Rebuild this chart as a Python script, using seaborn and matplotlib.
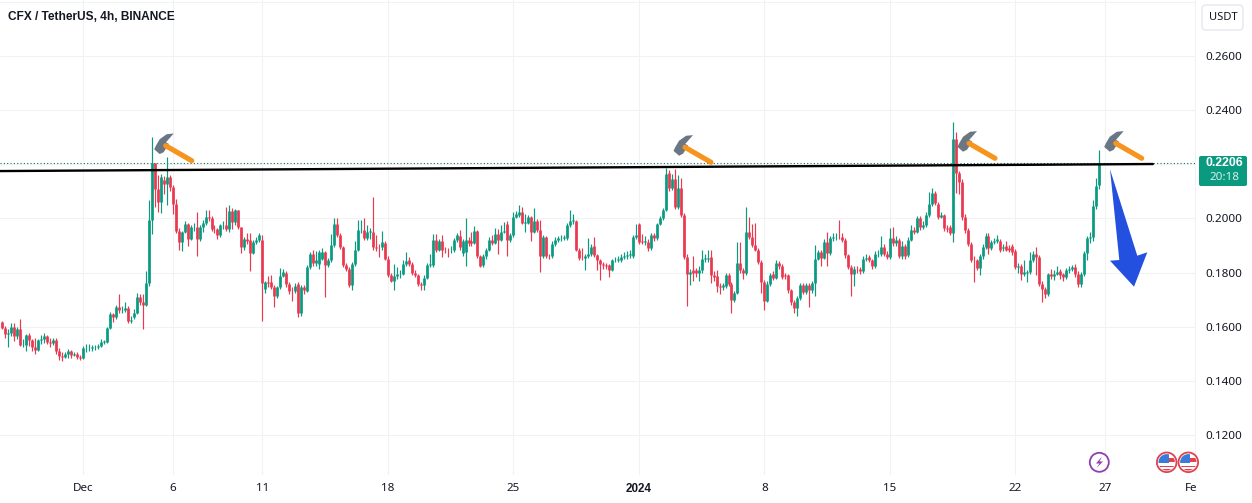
import pandas as pd
import numpy as np
import matplotlib.pyplot as plt
import matplotlib.dates as mdates
from matplotlib.patches import Polygon, Circle, Rectangle, FancyBboxPatch
from matplotlib.transforms import ScaledTranslation
import seaborn as sns

# candle values, in ten-thousandths of a USDT, 4h candles from 2023-11-26 12:00
opens = [
    1616, 1595, 1572, 1577, 1600, 1565, 1592, 1532, 1533, 1568,
    1552, 1525, 1515, 1550, 1553, 1565, 1545, 1540, 1552, 1510,
    1490, 1488, 1500, 1510, 1497, 1500, 1488, 1484, 1520, 1521,
    1522, 1524, 1526, 1528, 1544, 1545, 1597, 1647, 1635, 1672,
    1660, 1660, 1670, 1622, 1635, 1652, 1708, 1690, 1682, 1760,
    1995, 2203, 2110, 2060, 2143, 2128, 2153, 2116, 2054, 1955,
    1912, 1949, 1978, 1925, 1968, 1968, 1925, 1968, 1983, 2005,
    2000, 1962, 1960, 1937, 1974, 1974, 1962, 2027, 1986, 2030,
    1968, 1894, 1925, 1920, 1872, 1912, 1920, 1921, 1740, 1765,
    1767, 1746, 1715, 1746, 1789, 1797, 1758, 1733, 1732, 1758,
    1649, 1746, 1733, 1820, 1869, 1835, 1833, 1852, 1877, 1827,
    1846, 1901, 1979, 1938, 1895, 1827, 1815, 1753, 1833, 1885,
    1957, 1957, 1926, 1951, 1951, 1893, 1892, 1893, 1911, 1852,
    1790, 1769, 1786, 1794, 1796, 1833, 1846, 1833, 1799, 1790,
    1759, 1753, 1781, 1827, 1827, 1920, 1885, 1917, 1885, 1883,
    1882, 1883, 1920, 1935, 1873, 1875, 1920, 1915, 1910, 1953,
    1860, 1827, 1860, 1885, 1922, 1910, 1942, 1922, 1951, 1979,
    1920, 1938, 2006, 2012, 2025, 1985, 1985, 2004, 1951, 1991,
    1959, 1860, 1930, 1862, 1860, 1907, 1920, 1926, 1929, 1926,
    1975, 1991, 1991, 1883, 1855, 1853, 1862, 1870, 1898, 1864,
    1846, 1833, 1827, 1827, 1811, 1846, 1846, 1846, 1858, 1860,
    1864, 1860, 1930, 1979, 1917, 1914, 1914, 1889, 1938, 1928,
    1981, 2000, 2033, 2169, 2111, 2144, 2041, 2111, 2012, 1858,
    1794, 1808, 1808, 1800, 1808, 1852, 1852, 1858, 1790, 1786,
    1749, 1746, 1751, 1790, 1759, 1697, 1725, 1836, 1809, 1799,
    1951, 1932, 1901, 1885, 1839, 1765, 1695, 1759, 1794, 1781,
    1836, 1823, 1790, 1790, 1734, 1691, 1670, 1707, 1753, 1728,
    1753, 1734, 1762, 1852, 1876, 1855, 1914, 1873, 1926, 1930,
    1933, 1933, 1922, 1864, 1821, 1794, 1815, 1812, 1805, 1852,
    1858, 1846, 1823, 1868, 1868, 1895, 1870, 1858, 1926, 1908,
    1920, 1860, 1897, 1864, 1920, 1959, 1951, 2000, 1967, 1975,
    2012, 2053, 2093, 2053, 2006, 2012, 1963, 1967, 1947, 2293,
    2167, 2136, 2006, 1957, 1907, 1848, 1846, 1818, 1860, 1895,
    1935, 1889, 1914, 1918, 1917, 1890, 1897, 1889, 1897, 1880,
    1821, 1823, 1796, 1798, 1802, 1846, 1868, 1858, 1759, 1740,
    1720, 1796, 1786, 1796, 1806, 1794, 1784, 1809, 1812, 1821,
    1796, 1757, 1796, 1873, 1926, 1932, 2046, 2123,
]
closes = [
    1595, 1572, 1577, 1600, 1565, 1592, 1532, 1533, 1568, 1552,
    1525, 1515, 1550, 1553, 1565, 1545, 1540, 1552, 1510, 1490,
    1488, 1500, 1510, 1497, 1500, 1488, 1484, 1520, 1521, 1522,
    1524, 1526, 1528, 1545, 1546, 1597, 1647, 1635, 1672, 1660,
    1662, 1670, 1622, 1626, 1652, 1708, 1690, 1682, 1760, 1995,
    2203, 2110, 2060, 2153, 2128, 2153, 2116, 2054, 1955, 1912,
    1949, 1978, 1925, 1968, 1970, 1925, 1968, 1983, 2005, 2000,
    1962, 1960, 1937, 1974, 1976, 1962, 2027, 1986, 2030, 1968,
    1894, 1925, 1918, 1872, 1912, 1920, 1940, 1760, 1765, 1760,
    1746, 1715, 1746, 1789, 1801, 1758, 1733, 1732, 1750, 1649,
    1746, 1735, 1820, 1869, 1835, 1848, 1877, 1877, 1827, 1846,
    1901, 1979, 1938, 1895, 1827, 1815, 1753, 1833, 1885, 1957,
    1959, 1926, 1951, 1953, 1893, 1892, 1890, 1914, 1852, 1790,
    1769, 1786, 1794, 1796, 1833, 1843, 1833, 1799, 1790, 1759,
    1753, 1781, 1827, 1830, 1920, 1885, 1917, 1885, 1883, 1882,
    1884, 1920, 1938, 1895, 1917, 1920, 1910, 1910, 1953, 1860,
    1823, 1860, 1885, 1922, 1910, 1942, 1922, 1951, 1953, 1920,
    1938, 2006, 2018, 2025, 1985, 1987, 2004, 1951, 1991, 1957,
    1860, 1930, 1862, 1860, 1907, 1920, 1926, 1929, 1930, 1975,
    1991, 1993, 1883, 1855, 1853, 1862, 1868, 1895, 1864, 1846,
    1830, 1827, 1823, 1811, 1846, 1848, 1849, 1858, 1860, 1864,
    1868, 1930, 1938, 1914, 1914, 1916, 1889, 1938, 1928, 1981,
    2000, 2033, 2164, 2111, 2144, 2041, 2111, 2012, 1858, 1794,
    1802, 1798, 1800, 1808, 1852, 1855, 1855, 1790, 1784, 1749,
    1746, 1753, 1790, 1759, 1697, 1725, 1836, 1809, 1799, 1951,
    1932, 1901, 1885, 1839, 1765, 1695, 1759, 1790, 1781, 1836,
    1823, 1784, 1786, 1734, 1691, 1670, 1707, 1753, 1728, 1753,
    1734, 1762, 1852, 1876, 1855, 1914, 1873, 1926, 1930, 1933,
    1932, 1920, 1864, 1821, 1794, 1815, 1812, 1805, 1852, 1855,
    1846, 1823, 1868, 1870, 1895, 1870, 1858, 1926, 1908, 1920,
    1860, 1897, 1860, 1920, 1959, 1951, 2000, 1967, 1975, 2012,
    2053, 2093, 2056, 2006, 2012, 1963, 1960, 1947, 2293, 2167,
    2136, 2006, 1957, 1907, 1848, 1846, 1818, 1860, 1895, 1935,
    1889, 1914, 1918, 1923, 1885, 1893, 1885, 1885, 1876, 1821,
    1824, 1796, 1802, 1802, 1846, 1870, 1858, 1759, 1740, 1720,
    1796, 1786, 1796, 1802, 1790, 1784, 1809, 1812, 1821, 1796,
    1757, 1796, 1873, 1926, 1932, 2046, 2120, 2206,
]
highs = [
    1622, 1604, 1590, 1612, 1612, 1600, 1628, 1555, 1572, 1578,
    1556, 1558, 1555, 1570, 1578, 1568, 1560, 1560, 1558, 1520,
    1505, 1508, 1518, 1515, 1505, 1506, 1495, 1530, 1535, 1535,
    1532, 1534, 1538, 1555, 1552, 1600, 1655, 1652, 1680, 1721,
    1675, 1690, 1678, 1640, 1665, 1725, 1720, 1721, 1807, 2067,
    2301, 2205, 2160, 2165, 2155, 2227, 2160, 2125, 2070, 1965,
    1955, 1990, 1985, 1975, 1985, 2023, 1975, 1995, 2030, 2032,
    2008, 1975, 1965, 1980, 1990, 2043, 2048, 2040, 2035, 2032,
    1970, 1930, 1945, 1945, 1920, 1930, 1948, 1940, 1770, 1789,
    1790, 1755, 1752, 1817, 1815, 1805, 1765, 1745, 1760, 1765,
    1755, 1755, 1828, 1875, 1885, 1880, 1885, 1892, 1880, 1855,
    1944, 2000, 2000, 1945, 1900, 1835, 1820, 1840, 1915, 1994,
    1994, 2000, 1975, 1965, 2080, 1940, 1905, 1954, 1918, 1860,
    1798, 1830, 1821, 1810, 1845, 1877, 1858, 1840, 1808, 1796,
    1765, 1790, 1835, 1868, 1944, 1944, 1925, 1938, 1895, 1892,
    1900, 1928, 1948, 1958, 1925, 2000, 1930, 1951, 1972, 1958,
    1865, 1868, 1892, 1930, 1938, 1963, 1960, 1975, 1987, 1990,
    1945, 2025, 2027, 2049, 2043, 2015, 2012, 2010, 2037, 1998,
    1994, 1938, 1935, 1870, 1915, 1930, 1935, 1938, 1940, 1982,
    2033, 2018, 1996, 1890, 1890, 1870, 1928, 1905, 1932, 1870,
    1852, 1840, 1835, 1832, 1852, 1858, 1860, 1870, 1875, 1880,
    1885, 1938, 1979, 1985, 1944, 1935, 1925, 1945, 1948, 1985,
    2008, 2040, 2185, 2178, 2165, 2183, 2160, 2148, 2020, 1870,
    1815, 1860, 1818, 1825, 1883, 1870, 1883, 1883, 1805, 1808,
    1760, 1762, 1800, 1798, 1765, 1732, 1914, 1914, 1818, 2041,
    2004, 1980, 1985, 1892, 1845, 1772, 1768, 1798, 1805, 1845,
    1842, 1830, 1800, 1795, 1740, 1698, 1715, 1762, 1760, 1760,
    1760, 1768, 1901, 1885, 1885, 1925, 1951, 1935, 1945, 1945,
    1994, 1945, 1928, 1870, 1828, 1825, 1825, 1820, 1860, 1868,
    1865, 1850, 1878, 1885, 1935, 1905, 1878, 1963, 1968, 1935,
    1928, 1915, 1905, 1930, 1975, 1968, 2008, 2008, 1990, 2022,
    2099, 2111, 2100, 2060, 2025, 2018, 1975, 1975, 2358, 2319,
    2175, 2145, 2015, 1965, 1912, 1860, 1852, 1868, 1905, 1948,
    1948, 1920, 1928, 1938, 1925, 1905, 1915, 1902, 1905, 1888,
    1835, 1832, 1845, 1810, 1876, 1880, 1895, 1865, 1770, 1745,
    1800, 1815, 1810, 1825, 1815, 1800, 1818, 1825, 1828, 1830,
    1805, 1802, 1880, 1935, 1950, 2068, 2148, 2251,
]
lows = [
    1590, 1560, 1525, 1565, 1548, 1555, 1527, 1525, 1510, 1530,
    1512, 1500, 1510, 1538, 1540, 1535, 1525, 1532, 1500, 1478,
    1472, 1483, 1485, 1485, 1490, 1480, 1478, 1480, 1508, 1510,
    1512, 1515, 1518, 1525, 1538, 1540, 1590, 1616, 1628, 1652,
    1650, 1655, 1615, 1612, 1630, 1648, 1680, 1591, 1678, 1752,
    1943, 2042, 2023, 2020, 2090, 2050, 2100, 2015, 1945, 1884,
    1880, 1945, 1900, 1920, 1955, 1863, 1915, 1950, 1975, 1990,
    1955, 1945, 1925, 1930, 1960, 1955, 1950, 1960, 1975, 1960,
    1872, 1885, 1905, 1807, 1868, 1905, 1912, 1622, 1725, 1745,
    1740, 1674, 1705, 1740, 1782, 1745, 1720, 1696, 1725, 1637,
    1640, 1720, 1728, 1812, 1825, 1825, 1815, 1845, 1710, 1820,
    1840, 1895, 1930, 1888, 1820, 1805, 1745, 1734, 1825, 1880,
    1945, 1920, 1920, 1925, 1885, 1880, 1858, 1885, 1845, 1782,
    1765, 1737, 1775, 1780, 1790, 1825, 1825, 1790, 1782, 1752,
    1737, 1734, 1775, 1820, 1820, 1875, 1878, 1858, 1872, 1858,
    1872, 1875, 1912, 1885, 1860, 1823, 1900, 1900, 1905, 1855,
    1819, 1820, 1852, 1878, 1902, 1905, 1870, 1915, 1945, 1860,
    1912, 1930, 2000, 2005, 1978, 1951, 1978, 1918, 1945, 1950,
    1802, 1855, 1855, 1850, 1855, 1900, 1912, 1918, 1920, 1920,
    1968, 1980, 1878, 1845, 1845, 1811, 1855, 1862, 1858, 1808,
    1772, 1815, 1815, 1785, 1805, 1838, 1838, 1840, 1850, 1850,
    1855, 1855, 1925, 1905, 1905, 1902, 1880, 1885, 1918, 1922,
    1975, 1995, 2028, 2100, 2105, 2035, 2035, 2005, 1850, 1675,
    1753, 1770, 1785, 1770, 1800, 1840, 1840, 1760, 1770, 1728,
    1722, 1735, 1742, 1750, 1650, 1690, 1720, 1800, 1778, 1792,
    1925, 1895, 1878, 1830, 1725, 1660, 1690, 1750, 1772, 1775,
    1815, 1775, 1775, 1725, 1680, 1650, 1638, 1700, 1720, 1720,
    1673, 1725, 1715, 1845, 1825, 1850, 1825, 1865, 1915, 1920,
    1925, 1912, 1855, 1812, 1713, 1750, 1800, 1795, 1800, 1842,
    1838, 1815, 1818, 1858, 1862, 1860, 1850, 1852, 1900, 1900,
    1855, 1852, 1852, 1858, 1915, 1942, 1945, 1958, 1960, 1968,
    2005, 2045, 2050, 1998, 2000, 1955, 1950, 1938, 1914, 2093,
    2090, 1995, 1945, 1900, 1840, 1765, 1810, 1790, 1852, 1888,
    1870, 1882, 1905, 1910, 1875, 1880, 1878, 1875, 1865, 1812,
    1800, 1772, 1788, 1765, 1795, 1840, 1790, 1750, 1691, 1705,
    1712, 1778, 1772, 1790, 1775, 1770, 1778, 1798, 1805, 1785,
    1745, 1745, 1788, 1848, 1910, 1915, 2035, 2110,
]
price_ticks = [0.12, 0.14, 0.16, 0.18, 0.20, 0.22, 0.24, 0.26, 0.28]
price_labels = ['0.1200', '0.1400', '0.1600', '0.1800', '0.2000', '', '0.2400', '0.2600', '']
date_ticks = ['2023-12-01', '2023-12-06', '2023-12-11', '2023-12-18', '2023-12-25', '2024-01-01',
              '2024-01-08', '2024-01-15', '2024-01-22', '2024-01-27', '2024-02-01']
date_labels = ['Dec', '6', '11', '18', '25', '2024', '8', '15', '22', '27', 'Fe']
trend_dates = ['2023-11-26 09:00', '2024-01-29 16:00']
trend_prices = [0.2175, 0.2201]
last_price = 0.2206

GREEN = '#0a9a80'
RED = '#ea3850'
GRID = '#f1f2f4'
TEXT = '#131722'
BOLD_FONT = ['Liberation Sans', 'DejaVu Sans']

df = pd.DataFrame({'open': opens, 'high': highs, 'low': lows, 'close': closes}) / 10000
df['time'] = pd.date_range('2023-11-26 12:00', periods=len(df), freq='4h')
df['side'] = np.where(df['close'] >= df['open'], 'up', 'down')
df['candle'] = df.index

wicks = df.melt(id_vars=['candle', 'time', 'side'], value_vars=['low', 'high'], value_name='price')
bodies = df.melt(id_vars=['candle', 'time', 'side'], value_vars=['open', 'close'], value_name='price')

sns.set_theme(style='white', rc={'axes.facecolor': 'white', 'figure.facecolor': 'white'})
plt.rcParams['font.family'] = ['Noto Sans', 'DejaVu Sans']

fig = plt.figure(figsize=(12.52, 5.03), dpi=100)
ax = fig.add_axes([0, 28 / 503, 1196 / 1252, 475 / 503])

palette = {'up': GREEN, 'down': RED}
sns.lineplot(data=wicks, x='time', y='price', units='candle', estimator=None, hue='side', palette=palette,
             linewidth=0.85, solid_capstyle='butt', legend=False, ax=ax, zorder=3)
sns.lineplot(data=bodies, x='time', y='price', units='candle', estimator=None, hue='side', palette=palette,
             linewidth=1.95, solid_capstyle='butt', legend=False, ax=ax, zorder=4)

# trend line and last price line
trend = pd.DataFrame({'time': pd.to_datetime(trend_dates), 'price': trend_prices})
sns.lineplot(data=trend, x='time', y='price', color='black', linewidth=1.7, ax=ax, zorder=5)
ax.axhline(last_price, color='#0b6e60', linewidth=0.8, linestyle=(0, (1, 2)), zorder=2)

tick_nums = mdates.date2num(pd.to_datetime(date_ticks))
px_per_day = (1194.7 - 83) / (tick_nums[-1] - tick_nums[0])
ax.set_xlim(tick_nums[0] - 83 / px_per_day, tick_nums[-1] + 1.3 / px_per_day)
ax.set_ylim(0.12 - 40 / 2707, 0.12 + 435 / 2707)
ax.set_xticks(tick_nums)
ax.set_xticklabels(date_labels)
ax.set_yticks(price_ticks)
ax.set_yticklabels(price_labels)
ax.yaxis.tick_right()
ax.tick_params(axis='x', length=0, pad=6, labelsize=8.4, colors=TEXT)
ax.tick_params(axis='y', length=0, pad=6.8, labelsize=8.4, colors=TEXT)
ax.get_xticklabels()[5].set_fontweight('bold')
ax.get_xticklabels()[5].set_family(BOLD_FONT)
# the last date label is cut by the price scale in the chart, so it sits a little to the left
fe = ax.get_xticklabels()[-1]
fe.set_transform(fe.get_transform() + ScaledTranslation(-3.5 / 100, 0, fig.dpi_scale_trans))
ax.set_xlabel('')
ax.set_ylabel('')
ax.grid(True, color=GRID, linewidth=0.8)
ax.set_axisbelow(True)
for side in ['top', 'left', 'right', 'bottom']:
    ax.spines[side].set_visible(False)

# overlay in picture pixels for the drawn annotations
ov = fig.add_axes([0, 0, 1, 1], zorder=10)
ov.set_xlim(0, 1252)
ov.set_ylim(503, 0)
ov.axis('off')
ov.patch.set_alpha(0)

ov.text(8, 16.5, 'CFX / TetherUS, 4h, BINANCE', fontsize=8.6, fontweight='bold', family=BOLD_FONT, color=TEXT,
        va='center')


def draw_hammer(x, y):
    ov.plot([x - 26, x], [y - 15, y], color='#f7941d', linewidth=3.7, solid_capstyle='round')
    head = [(-37.5, -11.4), (-32, -6.6), (-28, -8.5), (-22.8, -16.7), (-25.7, -18.4),
            (-18, -27.2), (-25, -26.5), (-32, -21.5), (-35.8, -15)]
    ov.add_patch(Polygon([(x + a, y + b) for a, b in head], closed=True, color='#6b7684', linewidth=0))


for hx, hy in [(191.7, 160.7), (711, 162.3), (995, 158.3), (1141.7, 158.3)]:
    draw_hammer(hx, hy)

# blue arrow
ov.add_patch(Polygon([(1110, 169.3), (1137.3, 255.7), (1147.3, 252.3), (1134, 286.7), (1110, 260.7), (1119.3, 260)],
                     closed=True, color='#2450e0', linewidth=0))

# last price label
ov.add_patch(FancyBboxPatch((1199, 156), 48, 30, boxstyle='round,pad=0,rounding_size=2', color=GREEN, linewidth=0))
ov.text(1224, 163.5, '0.2206', fontsize=8.8, fontweight='bold', family=BOLD_FONT, color='white', ha='center',
        va='center')
ov.text(1224, 177.5, '20:18', fontsize=8.4, color='#d5f0ea', ha='center', va='center')

# unit button
ov.add_patch(FancyBboxPatch((1202, 5), 41, 25, boxstyle='round,pad=0,rounding_size=4', facecolor='white',
                            edgecolor='#e6e8ee', linewidth=1))
ov.text(1223, 17.5, 'USDT', fontsize=8, color=TEXT, ha='center', va='center')

# event icons
ov.add_patch(Circle((1099.3, 462.3), 9.5, facecolor='white', edgecolor='#8e3fb0', linewidth=1.3))
ov.add_patch(Polygon([(1102, 456.5), (1096, 463.5), (1099.5, 463.5), (1096.5, 468), (1103, 461.5), (1099.5, 461.5)],
                     closed=True, color='#8e3fb0', linewidth=0))
for fx in [1166.7, 1188.3]:
    ring = Circle((fx, 462.3), 9.8, facecolor='white', edgecolor='#e0424f', linewidth=1.3, zorder=3)
    ov.add_patch(ring)
    clip = Circle((fx, 462.3), 8.2, transform=ov.transData)
    for px, py, pw, ph, col in [(fx - 8.5, 454, 10.5, 8.5, '#3a7bd8'), (fx + 2, 458, 7, 3.5, '#e0424f'),
                                (fx - 8.5, 465.5, 17, 1.6, '#e0424f'), (fx - 6, 469, 12, 1.6, '#e0424f')]:
        r = Rectangle((px, py), pw, ph, color=col, linewidth=0, zorder=4)
        ov.add_patch(r)
        r.set_clip_path(clip)

plt.savefig('out.png', dpi=100)
